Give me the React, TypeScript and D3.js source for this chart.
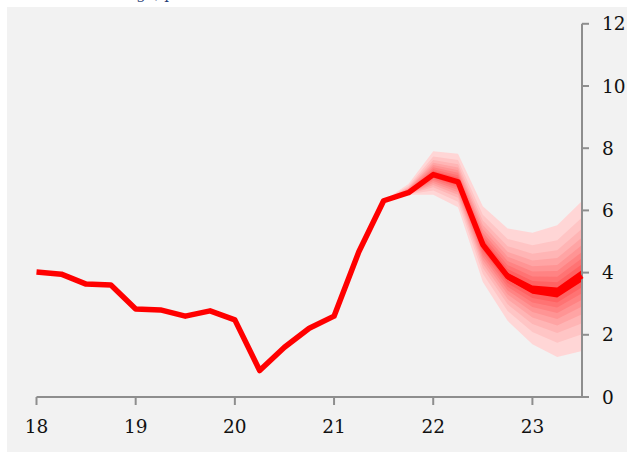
import React from "react"
import * as d3 from "d3"

// quarters, as decimal year (18 = 2018)
const periods = [
	18, 18.25, 18.5, 18.75, 19, 19.25, 19.5, 19.75, 20, 20.25, 20.5, 20.75, 21,
	21.25, 21.5, 21.75, 22, 22.25, 22.5, 22.75, 23, 23.25, 23.5,
]
const central = [
	4.02, 3.95, 3.63, 3.6, 2.83, 2.8, 2.6, 2.77, 2.48, 0.85, 1.6, 2.21, 2.6, 4.67,
	6.31, 6.57, 7.15, 6.92, 4.9, 3.88, 3.45, 3.36, 3.9,
]
// fan starts at 21.5
const fanPeriods = [21.5, 21.75, 22, 22.25, 22.5, 22.75, 23, 23.25, 23.5]
const fanCentral = [6.31, 6.57, 7.15, 6.92, 4.9, 3.88, 3.45, 3.36, 3.9]
const upper90 = [6.31, 6.85, 7.9, 7.82, 6.13, 5.42, 5.28, 5.52, 6.3]
const lower90 = [6.31, 6.5, 6.5, 6.1, 3.7, 2.45, 1.7, 1.29, 1.48]
// share of the 90% half-width for each band (10%..90%)
const bandLevels = [0.076, 0.154, 0.234, 0.319, 0.41, 0.512, 0.63, 0.779, 1]

const xTicks = [18, 19, 20, 21, 22, 23]
const yTicks = [0, 2, 4, 6, 8, 10, 12]

const App: React.FC = () => {
	const width = 627
	const height = 455
	const x = d3.scaleLinear().domain([18, 23.5]).range([36.5, 582])
	const y = d3.scaleLinear().domain([0, 12]).range([397, 23.8])
	const font = "'DejaVu Serif', serif"
	const axisColor = "#8e8e8e"

	const line = d3
		.line<number>()
		.x((d, i) => x(periods[i]))
		.y((d) => y(d))

	const bandColor = d3.interpolateRgb("#ff6262", "#ffd6d6")

	// widest band first, drawn underneath
	const bands = bandLevels
		.map((lvl, b) => {
			const area = d3
				.area<number>()
				.x((d, i) => x(fanPeriods[i]))
				.y0((d, i) => y(d - (d - lower90[i]) * lvl))
				.y1((d, i) => y(d + (upper90[i] - d) * lvl))
			const color =
				b === 0 ? "#ff0000" : bandColor((b - 1) / (bandLevels.length - 2))
			return { path: area(fanCentral) || "", color }
		})
		.reverse()

	return (
		<svg
			width={width}
			height={height}
			style={{ position: "absolute", left: 0, top: 0 }}>
			<rect x={7} y={7} width={620} height={445} fill="#f2f2f2" />
			<text x={22} y={-1} fontFamily={font} fontSize={15} fill="#1f3a73">
				12-month change, per cent
			</text>

			{bands.map((b, i) => (
				<path key={i} d={b.path} fill={b.color} stroke="none" />
			))}

			{/* x axis */}
			<line
				x1={x(18)}
				x2={x(23.5)}
				y1={y(0)}
				y2={y(0)}
				stroke={axisColor}
				strokeWidth={2}
			/>
			{xTicks.map((t) => (
				<g key={t}>
					<line
						x1={x(t)}
						x2={x(t)}
						y1={y(0)}
						y2={y(0) + 8}
						stroke={axisColor}
						strokeWidth={2}
					/>
					<text
						x={x(t)}
						y={433}
						textAnchor="middle"
						fontFamily={font}
						fontSize={18.5}
						fill="#111">
						{t}
					</text>
				</g>
			))}

			{/* y axis on the right */}
			<line
				x1={x(23.5)}
				x2={x(23.5)}
				y1={y(12)}
				y2={y(0) + 1}
				stroke={axisColor}
				strokeWidth={2}
			/>
			{yTicks.map((t) => (
				<g key={t}>
					<line
						x1={x(23.5)}
						x2={x(23.5) + 7}
						y1={y(t)}
						y2={y(t)}
						stroke={axisColor}
						strokeWidth={2}
					/>
					<text
						x={602}
						y={y(t)}
						dy="0.36em"
						fontFamily={font}
						fontSize={18.5}
						fill="#111">
						{t}
					</text>
				</g>
			))}

			<path
				d={line(central) || ""}
				fill="none"
				stroke="#ff0000"
				strokeWidth={5.5}
				strokeLinejoin="round"
			/>
		</svg>
	)
}

export default App
